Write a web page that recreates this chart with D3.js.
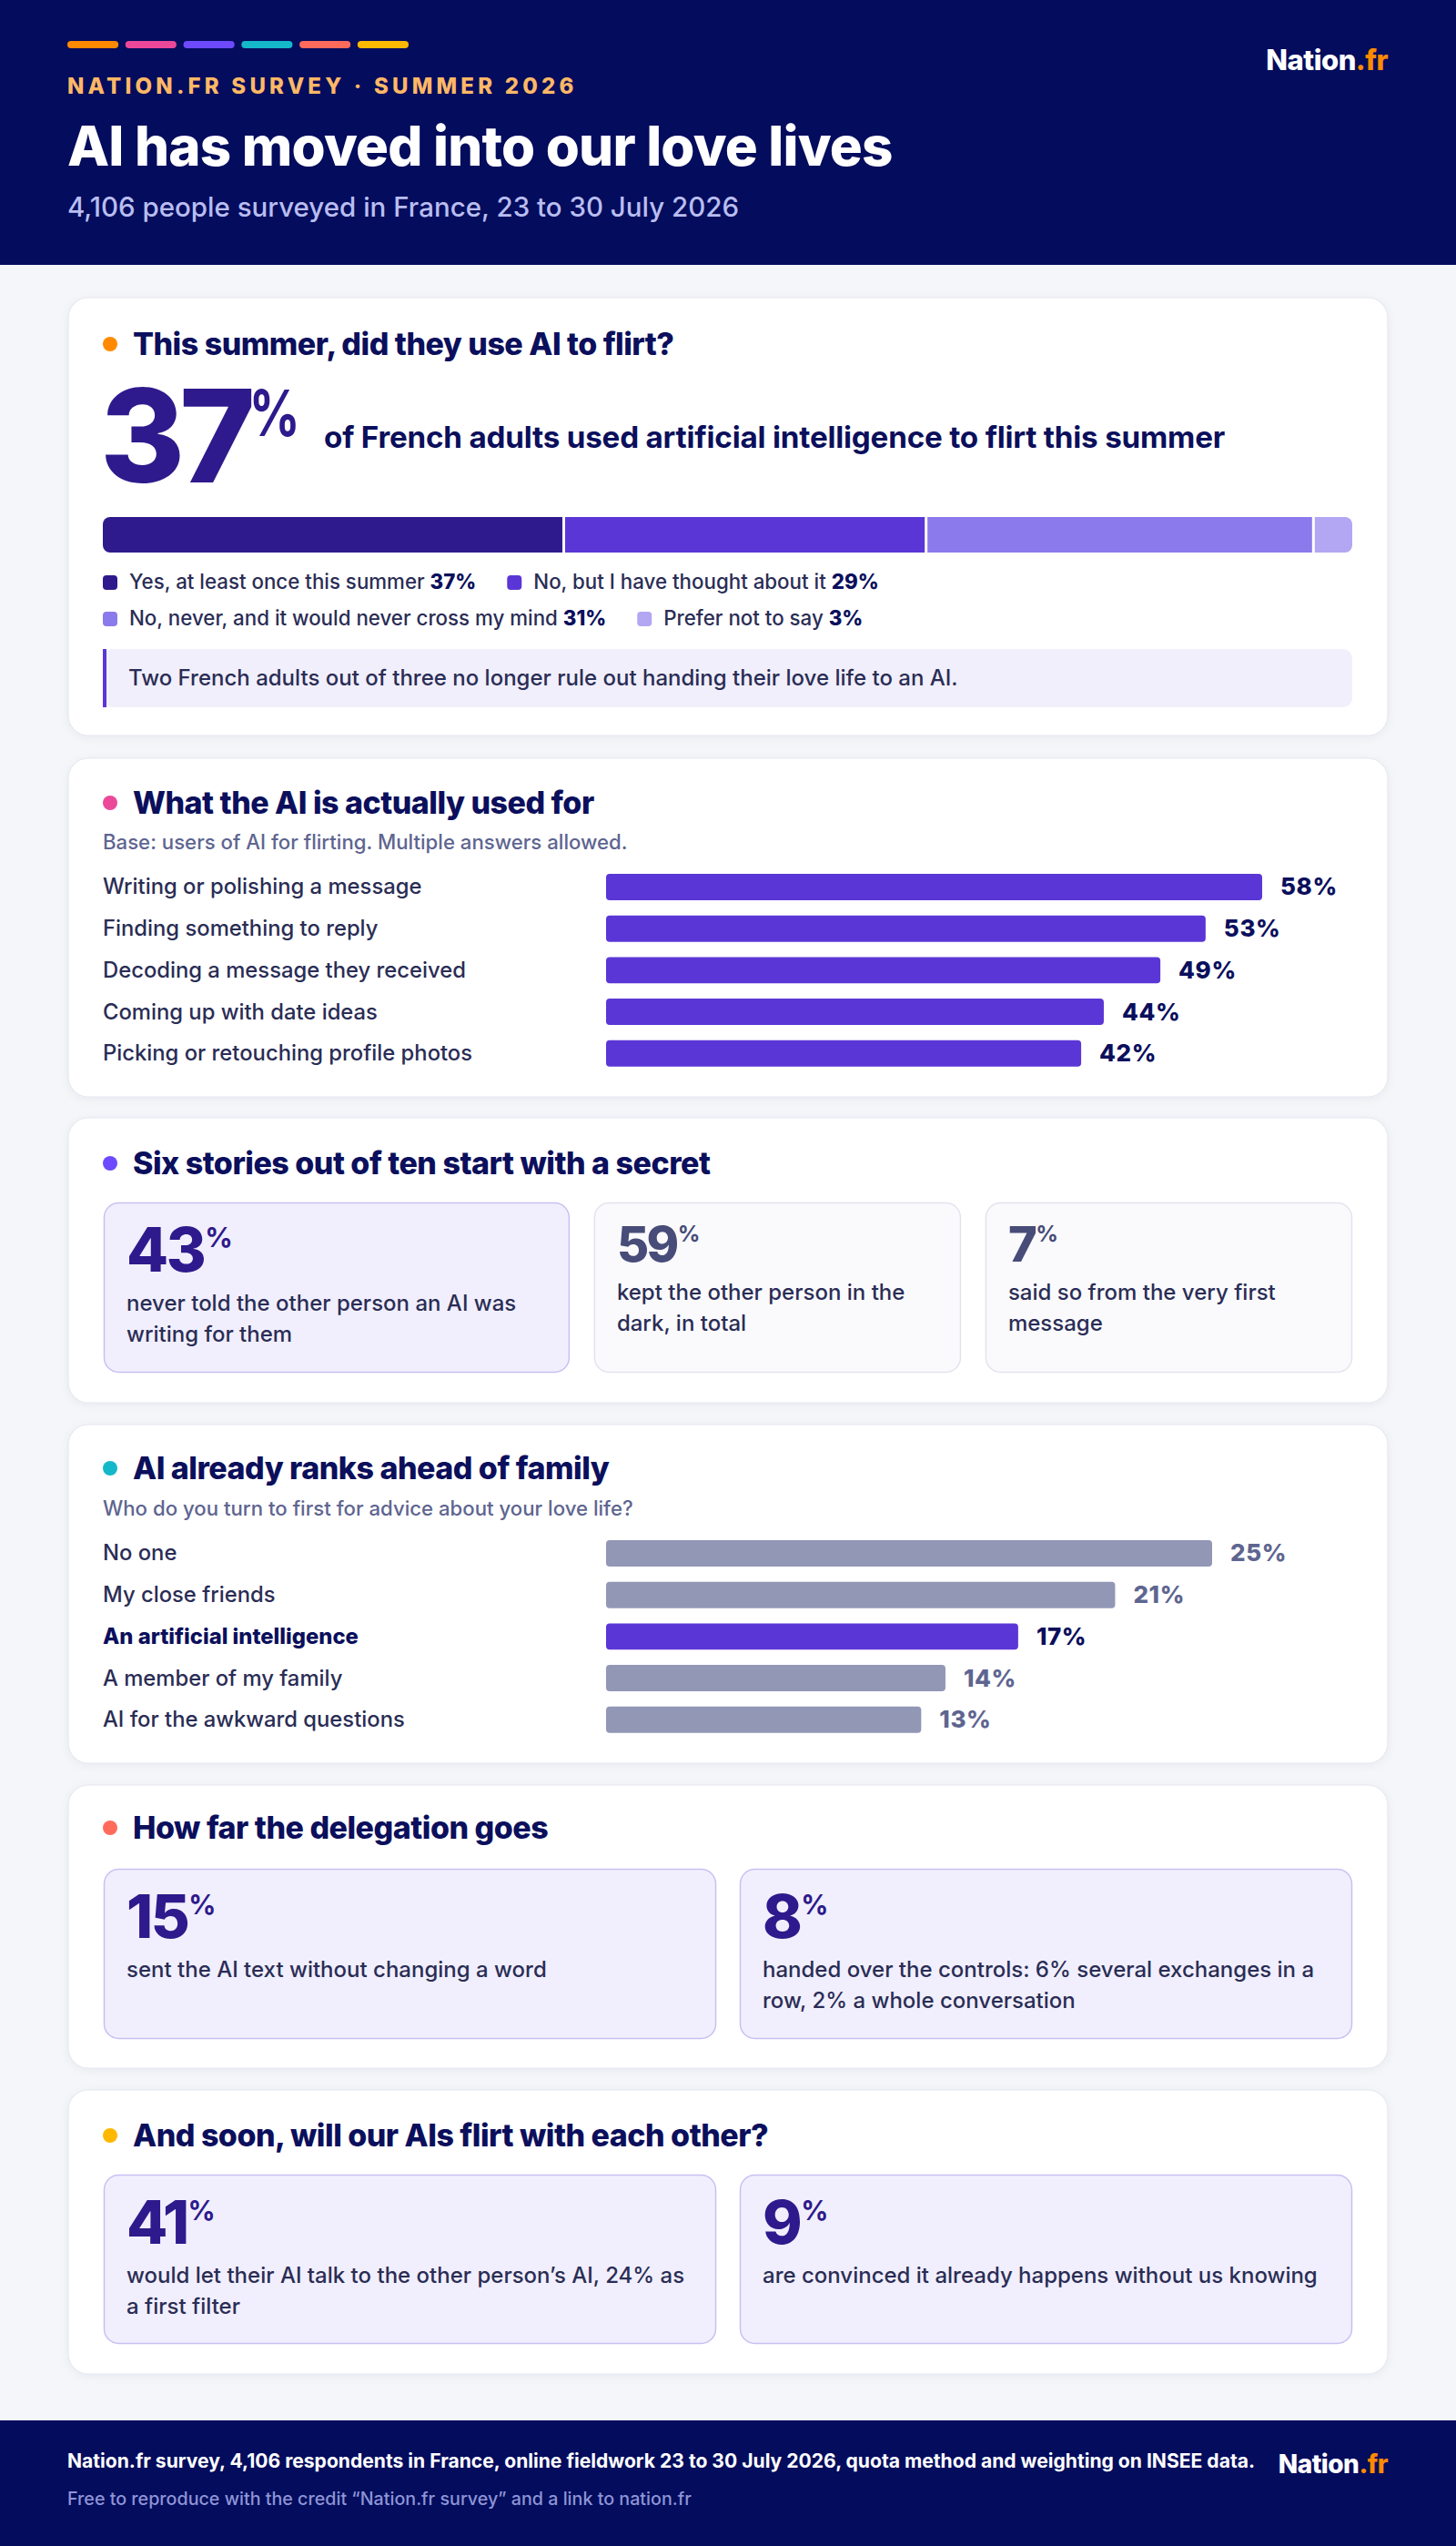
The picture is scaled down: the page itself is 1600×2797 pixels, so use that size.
<!DOCTYPE html>
<html><head><meta charset="utf-8">
<script src="https://cdn.jsdelivr.net/npm/d3@7"></script>
<style>
html,body{margin:0;padding:0;background:#F5F6FA;}
svg{display:block;font-family:Inter,'Noto Sans',sans-serif;}
</style>
</head><body>
<script>
// ---------------- DATA ----------------
const accentColors = ["#FF8A00","#EC4899","#6D4AFF","#14B8C8","#FF6B5B","#FFB800"];
const kicker = "NATION.FR SURVEY · SUMMER 2026";
const mainTitle = "AI has moved into our love lives";
const mainSubtitle = "4,106 people surveyed in France, 23 to 30 July 2026";
const sectionTitles = [
  "This summer, did they use AI to flirt?",
  "What the AI is actually used for",
  "Six stories out of ten start with a secret",
  "AI already ranks ahead of family",
  "How far the delegation goes",
  "And soon, will our AIs flirt with each other?"
];
const headlineValue = 37;
const headlineText = "of French adults used artificial intelligence to flirt this summer";
const flirtCategories = [
  "Yes, at least once this summer",
  "No, but I have thought about it",
  "No, never, and it would never cross my mind",
  "Prefer not to say"
];
const flirtValues = [37, 29, 31, 3];
const flirtColors = ["#2E1A8C", "#5B36D6", "#8B7AEB", "#B3A6F2"];
const flirtNote = "Two French adults out of three no longer rule out handing their love life to an AI.";

const usesNote = "Base: users of AI for flirting. Multiple answers allowed.";
const usesCategories = [
  "Writing or polishing a message",
  "Finding something to reply",
  "Decoding a message they received",
  "Coming up with date ideas",
  "Picking or retouching profile photos"
];
const usesValues = [58, 53, 49, 44, 42];

const secretValues = [43, 59, 7];
const secretLines = [
  ["never told the other person an AI was", "writing for them"],
  ["kept the other person in the", "dark, in total"],
  ["said so from the very first", "message"]
];

const adviceNote = "Who do you turn to first for advice about your love life?";
const adviceCategories = [
  "No one",
  "My close friends",
  "An artificial intelligence",
  "A member of my family",
  "AI for the awkward questions"
];
const adviceValues = [25, 21, 17, 14, 13];
const adviceHighlight = "An artificial intelligence";

const delegationValues = [15, 8];
const delegationLines = [
  ["sent the AI text without changing a word"],
  ["handed over the controls: 6% several exchanges in a", "row, 2% a whole conversation"]
];

const futureValues = [41, 9];
const futureLines = [
  ["would let their AI talk to the other person\u2019s AI, 24% as", "a first filter"],
  ["are convinced it already happens without us knowing"]
];

const footerSource = "Nation.fr survey, 4,106 respondents in France, online fieldwork 23 to 30 July 2026, quota method and weighting on INSEE data.";
const footerCredit = "Free to reproduce with the credit \u201CNation.fr survey\u201D and a link to nation.fr";

// ---------------- STYLE ----------------
const NAVY = "#0B0F5C";
const HEADER_BG = "#030C5D";
const TEXT = "#2A2D55";
const MUTED = "#5E6590";
const PURPLE = "#5B36D6";
const DEEP = "#2E1A8C";
const SLATE = "#474C78";
const GRAYBAR = "#9297B6";

const W = 1600, H = 2797;
const svg = d3.select("body").append("svg").attr("width", W).attr("height", H);

const defs = svg.append("defs");
const f = defs.append("filter").attr("id","shadow").attr("x","-5%").attr("y","-5%").attr("width","110%").attr("height","115%");
f.append("feDropShadow").attr("dx",0).attr("dy",2).attr("stdDeviation",5).attr("flood-color","#1B1F5C").attr("flood-opacity",0.05);

svg.append("rect").attr("width", W).attr("height", H).attr("fill", "#F5F6FA");

function txt(g, x, y, s, size, weight, color) {
  return g.append("text").attr("x", x).attr("y", y).attr("font-size", size)
    .attr("font-weight", weight).attr("fill", color).text(s);
}

// ---------------- HEADER ----------------
const header = svg.append("g");
header.append("rect").attr("width", W).attr("height", 291).attr("fill", HEADER_BG);
const stripX = d3.scaleBand().domain(d3.range(accentColors.length)).range([74, 74 + 62.5 * 6]).paddingInner(0.12);
header.selectAll("rect.strip").data(accentColors).join("rect").attr("class","strip")
  .attr("x", (d, i) => stripX(i)).attr("y", 45).attr("width", stripX.bandwidth()).attr("height", 8)
  .attr("rx", 4).attr("fill", d => d);
txt(header, 74, 103, kicker, 24, 800, "#FFB866").attr("letter-spacing", 4.2);
txt(header, 74, 182, mainTitle, 60, 800, "#FFFFFF").attr("letter-spacing", -0.8);
txt(header, 74, 238, mainSubtitle, 29.5, 500, "#B9BDF0");

function logo(g, xRight, y, size) {
  const t = g.append("text").attr("x", xRight).attr("y", y).attr("font-size", size)
    .attr("font-weight", 800).attr("text-anchor", "end").attr("letter-spacing", -0.5);
  t.append("tspan").attr("fill", "#FFFFFF").text("Nation");
  t.append("tspan").attr("fill", "#FF8A00").text(".fr");
}
logo(header, 1525, 77, 31);

// ---------------- CARDS ----------------
const cards = [
  {y: 327, h: 481, tb: 390},
  {y: 833, h: 372, tb: 894},
  {y: 1228, h: 313, tb: 1290},
  {y: 1565, h: 372, tb: 1625},
  {y: 1961, h: 311, tb: 2020},
  {y: 2296, h: 312, tb: 2358}
];
const CX = 75, CW = 1450;
const cardG = cards.map((c, i) => {
  const g = svg.append("g");
  g.append("rect").attr("x", CX).attr("y", c.y).attr("width", CW).attr("height", c.h)
    .attr("rx", 22).attr("fill", "#FFFFFF").attr("stroke", "#E6E7F0").attr("stroke-width", 1.2)
    .attr("filter", "url(#shadow)");
  g.append("circle").attr("cx", 121).attr("cy", c.tb - 12).attr("r", 8).attr("fill", accentColors[i]);
  txt(g, 146, c.tb, sectionTitles[i], 34, 800, NAVY).attr("letter-spacing", -0.5);
  return g;
});

// ---------------- SECTION 1 ----------------
(function () {
  const g = cardG[0];
  const bigSize = 142, pctSize = 70, base = 530;
  const big = txt(g, 110, base, String(headlineValue), bigSize, 800, DEEP).attr("letter-spacing", -6);
  const bw = big.node().getComputedTextLength();
  txt(g, 110 + bw - 1, base - 0.727 * bigSize + 0.727 * pctSize + 1, "%", pctSize, 700, DEEP)
    .attr("textLength", 56).attr("lengthAdjust", "spacingAndGlyphs");
  txt(g, 356, 492, headlineText, 33.2, 700, NAVY).attr("letter-spacing", -0.2);

  // stacked bar
  const x = d3.scaleLinear().domain([0, d3.sum(flirtValues)]).range([113, 1486]);
  const stacked = flirtValues.map((v, i) => ({v, i, start: d3.sum(flirtValues.slice(0, i)), end: d3.sum(flirtValues.slice(0, i + 1))}));
  defs.append("clipPath").attr("id", "barclip").append("rect")
    .attr("x", x(0)).attr("y", 568).attr("width", x(d3.sum(flirtValues)) - x(0)).attr("height", 39).attr("rx", 8);
  g.append("g").attr("clip-path", "url(#barclip)").selectAll("rect").data(stacked).join("rect")
    .attr("x", d => x(d.start)).attr("y", 568)
    .attr("width", d => x(d.end) - x(d.start) - (d.i < stacked.length - 1 ? 3 : 0))
    .attr("height", 39).attr("fill", d => flirtColors[d.i]);

  // legend (flow layout)
  let lx = 113, ly = 647;
  const lg = g.append("g");
  flirtCategories.forEach((c, i) => {
    const item = lg.append("g");
    item.append("rect").attr("x", 0).attr("y", -15).attr("width", 16).attr("height", 16).attr("rx", 4).attr("fill", flirtColors[i]);
    const t = item.append("text").attr("x", 29).attr("y", 0).attr("font-size", 22.3).attr("fill", TEXT).attr("font-weight", 500);
    t.append("tspan").text(c + " ");
    t.append("tspan").attr("font-weight", 800).attr("fill", NAVY).text(flirtValues[i] + "%");
    const w = 29 + t.node().getComputedTextLength();
    if (lx + w > 1486) { lx = 113; ly += 40; }
    item.attr("transform", `translate(${lx},${ly})`);
    lx += w + 34;
  });

  // note
  g.append("rect").attr("x", 113).attr("y", 713).attr("width", 1373).attr("height", 64).attr("rx", 10).attr("fill", "#F1EFFB");
  g.append("rect").attr("x", 113).attr("y", 713).attr("width", 4).attr("height", 64).attr("fill", PURPLE);
  txt(g, 141, 753, flirtNote, 24, 500, TEXT);
})();

// ---------------- HORIZONTAL BARS ----------------
function hbars(g, cats, vals, opt) {
  const y = d3.scaleBand().domain(cats).range([opt.top, opt.top + 45.7 * (cats.length - 0.366)]).paddingInner(0.366).paddingOuter(0);
  const x = d3.scaleLinear().domain([0, d3.max(vals)]).range([666, opt.maxX]);
  const rows = g.append("g").selectAll("g").data(cats.map((c, i) => ({c, v: vals[i]}))).join("g");
  rows.append("text").attr("x", 113).attr("y", d => y(d.c) + y.bandwidth() / 2 + 8)
    .attr("font-size", 23.8).attr("font-weight", d => opt.hl(d.c) ? 800 : 500)
    .attr("fill", d => opt.hl(d.c) ? NAVY : TEXT).text(d => d.c);
  rows.append("rect").attr("x", x(0)).attr("y", d => y(d.c)).attr("width", d => x(d.v) - x(0))
    .attr("height", y.bandwidth()).attr("rx", 4).attr("fill", d => opt.barColor(d.c));
  rows.append("text").attr("x", d => x(d.v) + 20).attr("y", d => y(d.c) + y.bandwidth() / 2 + 9)
    .attr("font-size", 26).attr("font-weight", 800).attr("letter-spacing", 0.6)
    .attr("fill", d => opt.valColor(d.c)).text(d => d.v + "%");
}

// ---------------- SECTION 2 ----------------
txt(cardG[1], 113, 933, usesNote, 22.2, 500, MUTED);
hbars(cardG[1], usesCategories, usesValues, {
  top: 960, maxX: 1387, hl: () => false, barColor: () => PURPLE, valColor: () => NAVY
});

// ---------------- SECTION 4 ----------------
txt(cardG[3], 113, 1665, adviceNote, 22.2, 500, MUTED);
hbars(cardG[3], adviceCategories, adviceValues, {
  top: 1692, maxX: 1332,
  hl: c => c === adviceHighlight,
  barColor: c => c === adviceHighlight ? PURPLE : GRAYBAR,
  valColor: c => c === adviceHighlight ? NAVY : MUTED
});

// ---------------- STAT BOXES ----------------
function statBoxes(g, vals, lines, opt) {
  const n = vals.length, gap = opt.gap, total = 1486 - 114 - gap * (n - 1);
  const wsum = d3.sum(opt.weights);
  let bx = 114;
  vals.forEach((v, i) => {
    const bw = total * opt.weights[i] / wsum;
    const hl = opt.highlight[i];
    g.append("rect").attr("x", bx + 0.5).attr("y", opt.y + 0.5).attr("width", bw - 1).attr("height", opt.h - 1)
      .attr("rx", 16).attr("fill", hl ? "#F1EFFD" : "#FAFAFD").attr("stroke", hl ? "#C9C0F2" : "#E3E3EE").attr("stroke-width", 1.5);
    const size = opt.sizes[i], pct = size * 0.45;
    const base = opt.y + (size > 60 ? 76 : 65);
    const col = hl ? DEEP : SLATE;
    const num = txt(g, bx + 25, base, String(v), size, 800, col).attr("letter-spacing", -2.5);
    const nw = num.node().getComputedTextLength();
    txt(g, bx + 25 + nw + 1, base - 0.727 * size + 0.727 * pct, "%", pct, 700, col);
    lines[i].forEach((l, j) => {
      txt(g, bx + 25, base + (size > 60 ? 43 : 42) + j * 33.5, l, 24, 500, TEXT);
    });
    bx += bw + gap;
  });
}

statBoxes(cardG[2], secretValues, secretLines, {
  y: 1321, h: 187, gap: 27, weights: [1.27, 1, 1], highlight: [true, false, false], sizes: [67, 54, 54]
});
statBoxes(cardG[4], delegationValues, delegationLines, {
  y: 2053, h: 187, gap: 26, weights: [1, 1], highlight: [true, true], sizes: [66, 66]
});
statBoxes(cardG[5], futureValues, futureLines, {
  y: 2389, h: 186, gap: 26, weights: [1, 1], highlight: [true, true], sizes: [66, 66]
});

// ---------------- FOOTER ----------------
const foot = svg.append("g");
foot.append("rect").attr("x", 0).attr("y", 2659).attr("width", W).attr("height", H - 2659).attr("fill", HEADER_BG);
txt(foot, 74, 2711, footerSource, 21.1, 700, "#FFFFFF");
txt(foot, 74, 2752, footerCredit, 19.7, 500, "#8E94D6");
logo(foot, 1525, 2717, 28);
</script>
</body></html>
